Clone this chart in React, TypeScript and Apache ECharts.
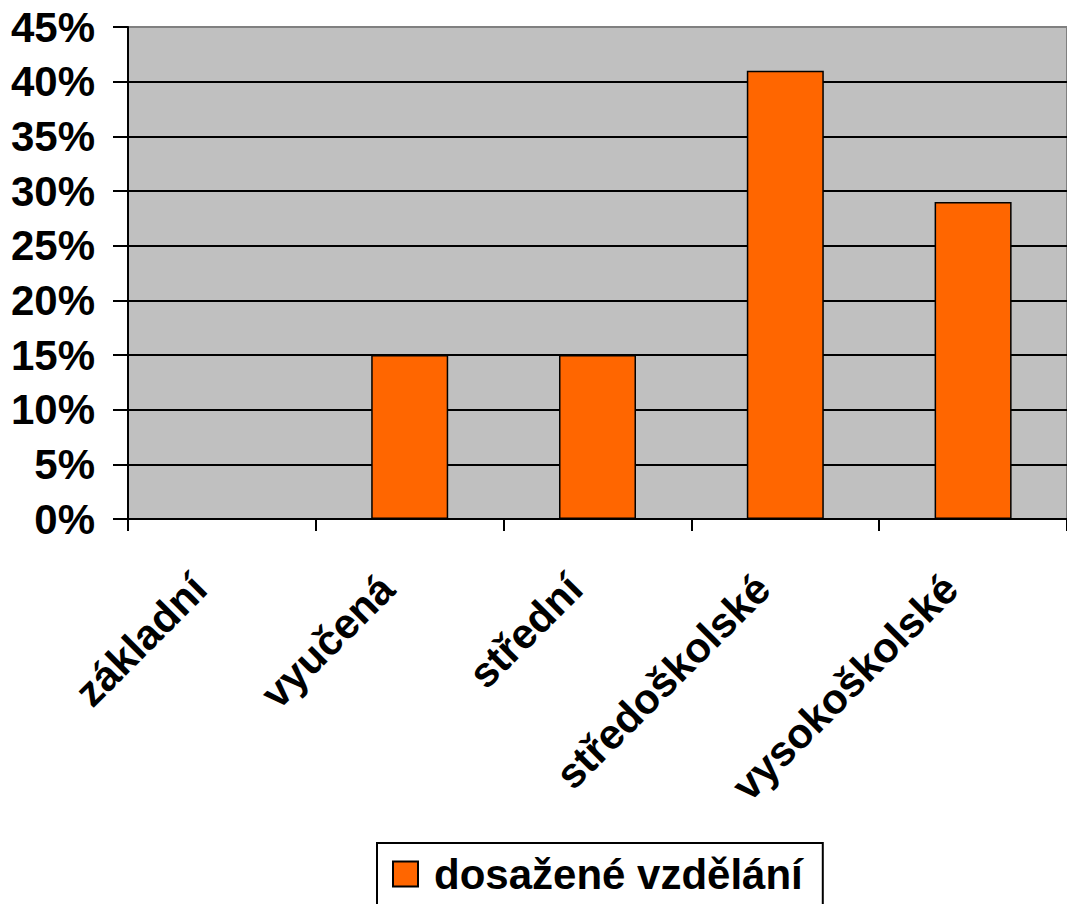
import React, { useEffect, useRef } from "react";
import * as echarts from "echarts";

const categories = ["základní", "vyučená", "střední", "středoškolské", "vysokoškolské"];
const values = [0, 15, 15, 41, 29];
const seriesName = "dosažené vzdělání";
const yMin = 0;
const yMax = 45;
const yInterval = 5;

const FONT = "Arial, 'Liberation Sans', Helvetica, sans-serif";

export default function App() {
  const ref = useRef<HTMLDivElement>(null);
  useEffect(() => {
    if (!ref.current) return;
    const chart = echarts.init(ref.current, undefined, { renderer: "svg" });
    const splitColors = Array.from({ length: (yMax - yMin) / yInterval + 1 }, (_, i) =>
      i === (yMax - yMin) / yInterval ? "#808080" : "#000000"
    );
    chart.setOption({
      animation: false,
      backgroundColor: "#ffffff",
      grid: {
        left: 128,
        top: 27,
        right: -6,
        bottom: 385,
        show: true,
        backgroundColor: "#C0C0C0",
        borderColor: "#808080",
        borderWidth: 2,
      },
      legend: {
        data: [seriesName],
        left: 377,
        top: 843,
        padding: [10, 20, 16, 15],
        itemWidth: 25,
        itemHeight: 25,
        icon: "rect",
        borderColor: "#000",
        borderWidth: 2,
        textStyle: {
          fontFamily: FONT,
          fontWeight: "bold",
          fontSize: 42,
          color: "#000",
          padding: [0, 0, 0, 11],
        },
      },
      xAxis: {
        type: "category",
        data: categories,
        axisLine: { lineStyle: { color: "#000", width: 2 } },
        axisTick: { show: true, length: 12, lineStyle: { color: "#000", width: 2 } },
        axisLabel: {
          interval: 0,
          rotate: 45,
          margin: 40,
          padding: [0, 32, 0, 0],
          fontFamily: FONT,
          fontWeight: "bold",
          fontSize: 42,
          color: "#000",
        },
      },
      yAxis: {
        type: "value",
        min: yMin,
        max: yMax,
        interval: yInterval,
        axisLine: { show: true, lineStyle: { color: "#000", width: 2 } },
        axisTick: { show: true, length: 15, lineStyle: { color: "#000", width: 2 } },
        axisLabel: {
          formatter: "{value}%",
          margin: 33,
          fontFamily: FONT,
          fontWeight: "bold",
          fontSize: 42,
          color: "#000",
        },
        splitLine: { show: true, lineStyle: { color: splitColors, width: 2 } },
      },
      series: [
        {
          name: seriesName,
          type: "bar",
          data: values,
          barWidth: "41%",
          itemStyle: { color: "#FF6600", borderColor: "#000", borderWidth: 1.5 },
        },
      ],
    });
    return () => chart.dispose();
  }, []);
  return (
    <div
      ref={ref}
      style={{ position: "absolute", left: 0, top: 0, width: 1067, height: 904 }}
    />
  );
}
